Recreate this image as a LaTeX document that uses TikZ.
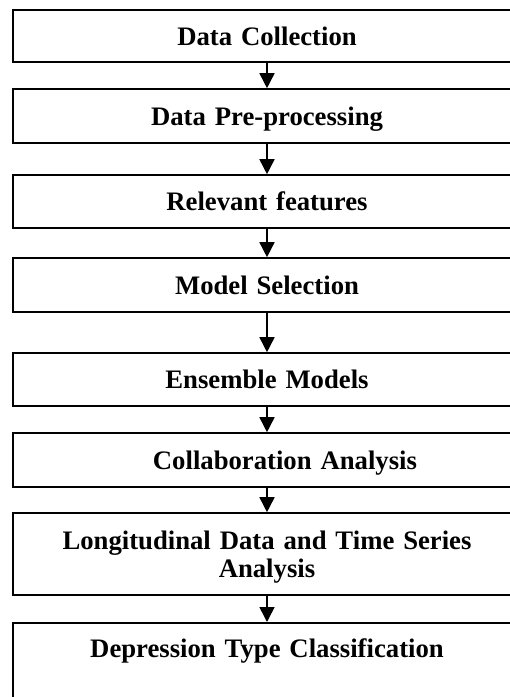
\documentclass[tikz,border=0pt]{standalone}
\usepackage{fontspec}
\setmainfont{Liberation Serif}
\usetikzlibrary{arrows.meta}
\tikzset{
	stage/.style={draw, rectangle, line width=1.6pt, inner sep=0pt, minimum width=508pt, text width=490pt, align=center,
		font=\bfseries\fontsize{26.7}{28}\selectfont, text height=21pt, text depth=3pt},
	flow/.style={line width=1.6pt, -{Triangle[width=15pt,length=15pt]}}
}
\begin{document}
\begin{tikzpicture}[x=1pt,y=-1pt]
		\def\xc{267}
		\useasboundingbox (0,0) rectangle (510,697);
		\clip (0,0) rectangle (510,697);
		\node[stage, minimum height=52pt] (collect) at (\xc,36) {Data Collection};
		\node[stage, minimum height=54pt] (prep) at (\xc,116) {Data Pre-processing};
		\node[stage, minimum height=53pt] (feat) at (\xc,201.5) {Relevant features};
		\node[stage, minimum height=54pt] (select) at (\xc,285) {Model Selection};
		\node[stage, minimum height=53pt] (ensemble) at (\xc,379.5) {Ensemble Models};
		\node[stage, minimum height=54pt] (collab) at (\xc,460) {\hspace*{36pt}Collaboration Analysis};
		\node[stage, minimum height=82pt, text depth=31pt] (longit) at (\xc,554) {Longitudinal Data and Time Series\\Analysis};
		\node[stage, anchor=north, text height=35pt, text depth=100pt] (classify) at (\xc,622) {Depression Type Classification};
		\draw[flow] (collect) -- (prep);
		\draw[flow] (prep) -- (feat);
		\draw[flow] (feat) -- (select);
		\draw[flow] (select) -- (ensemble);
		\draw[flow] (ensemble) -- (collab);
		\draw[flow] (collab) -- (longit);
		\draw[flow] (longit) -- (classify);
	\end{tikzpicture}
\end{document}
